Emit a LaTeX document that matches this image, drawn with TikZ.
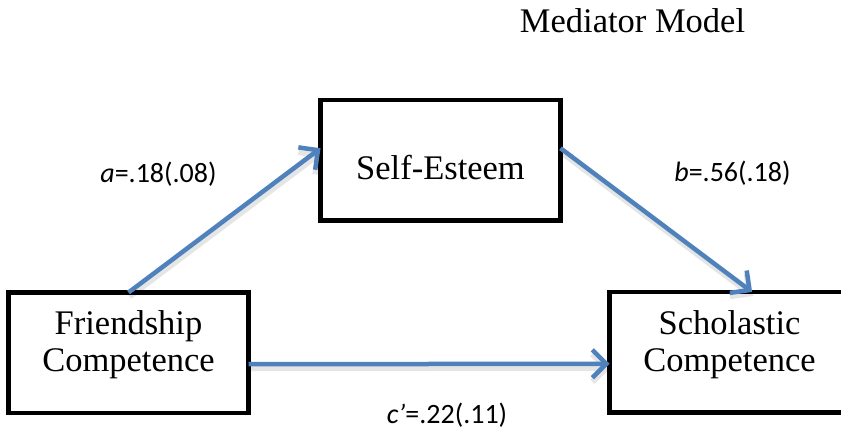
\documentclass[tikz,border=0pt]{standalone}
\usepackage{fontspec}
\setmainfont{Liberation Serif}
\newfontfamily\labfont{Carlito}
\usetikzlibrary{arrows.meta}
\definecolor{arrowblue}{HTML}{4F81BD}
\tikzset{
  boxnode/.style={draw=black, line width=4.5pt, fill=white, minimum width=240pt, minimum height=120.5pt, inner sep=0pt, outer sep=0pt, anchor=north west},
  boxtext/.style={font=\fontsize{34.5}{37}\selectfont, anchor=base, inner sep=0pt},
  labtext/.style={font=\labfont\fontsize{28}{32}\selectfont, anchor=base, inner sep=0pt},
  pathline/.style={draw=arrowblue, line width=4.5pt, -{Straight Barb[length=14pt,width=28pt]},
    preaction={draw=black, opacity=0.1, line width=6pt, transform canvas={xshift=1pt,yshift=-4pt}}}
}
\begin{document}
\begin{tikzpicture}[x=1pt,y=1pt]
\path[use as bounding box, clip] (0,0) rectangle (841,434);
\fill[white] (0,0) rectangle (841,434);
% boxes
\node[boxnode] (F) at (8.5,141.5) {};
\node[boxnode] (SE) at (320.5,334) {};
\node[boxnode] (SC) at (609.5,142) {};
% box texts
\node[boxtext] (Ft1) at (128.5,99) {Friendship};
\node[boxtext] (Ft2) at (128.5,62) {Competence};
\node[boxtext] (SEt) at (440.5,254) {Self-Esteem};
\node[boxtext] (SCt1) at (729.5,99) {Scholastic};
\node[boxtext] (SCt2) at (729.5,62) {Competence};
% title
\node[boxtext] (title) at (632.5,401) {Mediator Model};
% arrows
\draw[pathline] (F.north) -- ([yshift=12pt]SE.west);
\draw[pathline] ([yshift=12pt]SE.east) -- ([xshift=22.5pt]SC.north);
\draw[pathline] ([yshift=-11.5pt]F.east) -- ([yshift=-11.5pt]SC.west);
% labels
\node[labtext] (la) at (158.5,251) {\itshape a\upshape=.18(.08)};
\node[labtext] (lb) at (732.5,252) {\itshape b\upshape=.56(.18)};
\node[labtext] (lc) at (447,11) {\itshape c’\upshape=.22(.11)};
\end{tikzpicture}
\end{document}
